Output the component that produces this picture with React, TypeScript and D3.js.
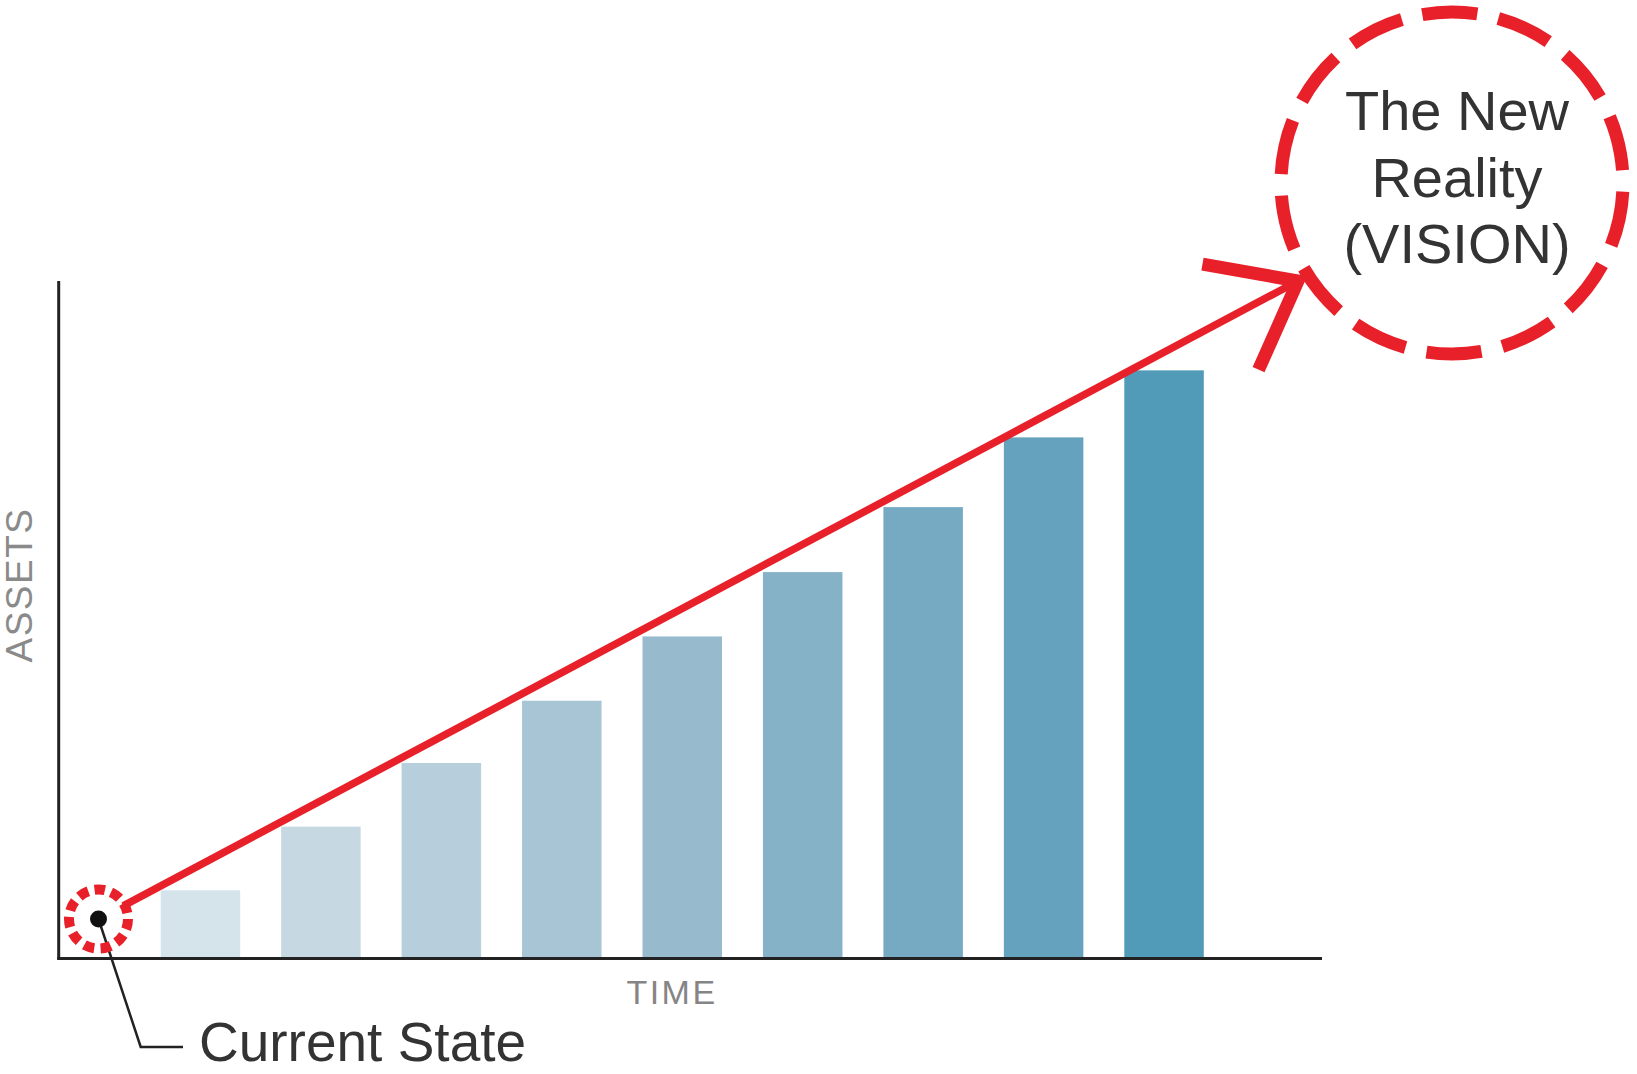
import React, { useEffect } from "react";
import * as d3 from "d3";

const categories = ["T1", "T2", "T3", "T4", "T5", "T6", "T7", "T8", "T9"];
const assetValues = [10, 19.4, 28.8, 38, 47.5, 57, 66.6, 76.9, 86.8];
const barColors = ["#d5e3eb", "#c6d9e3", "#b7cfdc", "#a7c5d5", "#97bbcd", "#86b2c7", "#76aac3", "#64a2bd", "#519bb8"];
const xLabel = "TIME";
const yLabel = "ASSETS";
const visionLines = ["The New", "Reality", "(VISION)"];
const currentLabel = "Current State";

const W = 1637;
const H = 1074;
const RED = "#e8202a";

export default function App() {
  useEffect(() => {
    document.body.style.margin = "0";
  }, []);

  const x = d3.scaleBand<string>().domain(categories).range([160.7, 1203.8]).paddingInner(0.34).paddingOuter(0);
  const y = d3.scaleLinear().domain([0, 100]).range([958, 281]);

  const cur = { x: 98.5, y: 919 };
  const tip = { x: 1298, y: 281 };
  const ang = Math.atan2(tip.y - cur.y, tip.x - cur.x);
  const start = { x: cur.x + 28 * Math.cos(ang), y: cur.y + 28 * Math.sin(ang) };
  const headLen = 97;
  const headAng = (38 * Math.PI) / 180;
  const back = ang + Math.PI;
  const arm1 = { x: tip.x + headLen * Math.cos(back + headAng), y: tip.y + headLen * Math.sin(back + headAng) };
  const arm2 = { x: tip.x + headLen * Math.cos(back - headAng), y: tip.y + headLen * Math.sin(back - headAng) };

  const bigC = { x: 1452, y: 183, r: 171 };
  const bigCirc = 2 * Math.PI * bigC.r;
  const bigPeriod = bigCirc / 14;
  const smallR = 29.5;
  const smallCirc = 2 * Math.PI * smallR;
  const smallPeriod = smallCirc / 11;

  const line = d3.line<{ x: number; y: number }>().x((d) => d.x).y((d) => d.y);

  return (
    <svg width={W} height={H} style={{ display: "block", background: "#fff" }} fontFamily="Liberation Sans, Arial, sans-serif">
      {categories.map((c, i) => (
        <rect key={c} x={x(c)} y={y(assetValues[i])} width={x.bandwidth()} height={y(0) - y(assetValues[i])} fill={barColors[i]} />
      ))}
      {/* axes */}
      <line x1={58.7} x2={58.7} y1={281} y2={959.5} stroke="#222" strokeWidth={3} />
      <line x1={57.2} x2={1322} y1={958.5} y2={958.5} stroke="#222" strokeWidth={3} />
      <text x={672} y={1004} textAnchor="middle" fontSize={34} fill="#858585" letterSpacing={2.5}>{xLabel}</text>
      <text transform={`translate(32,585) rotate(-90)`} textAnchor="middle" fontSize={37} fill="#8a8a8a" letterSpacing={1.5}>{yLabel}</text>

      {/* leader line */}
      <path d={line([cur, { x: 140.7, y: 1047 }, { x: 183, y: 1047 }]) ?? ""} fill="none" stroke="#222" strokeWidth={2.5} />
      <text x={199} y={1061} fontSize={55} fill="#333">{currentLabel}</text>

      {/* arrow */}
      <path d={line([start, tip]) ?? ""} stroke={RED} strokeWidth={7.5} fill="none" />
      <path d={line([arm1, tip, arm2]) ?? ""} stroke={RED} strokeWidth={13} fill="none" strokeLinejoin="miter" />

      {/* small circle */}
      <circle cx={cur.x} cy={cur.y} r={smallR} fill="none" stroke={RED} strokeWidth={10} strokeDasharray={`${smallPeriod * 0.62} ${smallPeriod * 0.38}`} />
      <circle cx={cur.x} cy={cur.y} r={8.5} fill="#111" />

      {/* big circle */}
      <circle cx={bigC.x} cy={bigC.y} r={bigC.r} fill="none" stroke={RED} strokeWidth={13} strokeDasharray={`${bigPeriod * 0.72} ${bigPeriod * 0.28}`} transform={`rotate(-100 ${bigC.x} ${bigC.y})`} />
      {visionLines.map((t, i) => (
        <text key={t} x={1457} y={130 + i * 66.5} textAnchor="middle" fontSize={56} fill="#333">{t}</text>
      ))}
    </svg>
  );
}
